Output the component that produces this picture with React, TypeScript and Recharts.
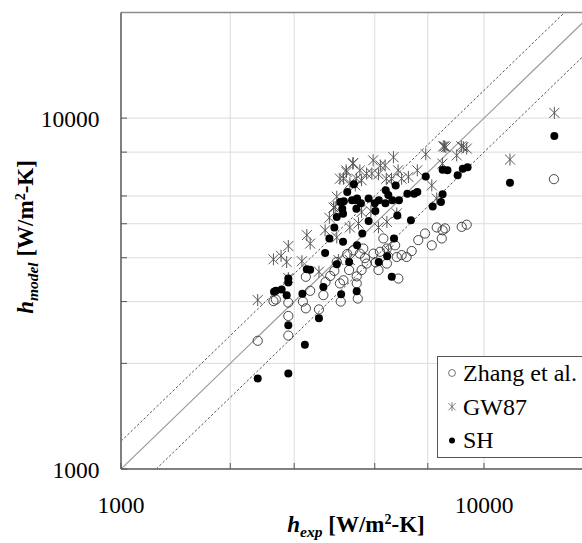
import { ScatterChart, Scatter, XAxis, YAxis, CartesianGrid, ReferenceLine, Legend } from 'recharts';

const SERIF = '"Liberation Serif", "Times New Roman", serif';

// axis setup (log-log, both axes 1000 .. 20000)
const axisDomain = [1000, 20000];
const gridTicks = [1000, 2000, 3000, 4000, 5000, 6000, 7000, 8000, 9000, 10000];
const labelledTicks = [1000, 10000];

// parity line and +/-20 % band
const parityRatios = [1, 1.2, 0.8];

// [h_exp, h_model] pairs
const zhangPoints = [
  [2380, 2320], [2890, 2400], [2890, 2730], [2890, 2980], [2630, 3010], [2670, 3040],
  [3170, 3000], [3230, 2870], [3320, 3220], [3230, 3530], [3510, 2850], [3610, 3130],
  [3660, 3410], [3770, 3550], [3870, 3670], [4010, 3380], [4100, 3450], [4030, 3000],
  [4250, 3690], [4200, 4100], [4460, 3540], [4460, 3380], [4490, 3060], [3930, 3890],
  [4360, 4200], [4550, 4110], [4650, 4250], [4960, 4110], [5170, 4160], [5400, 4250],
  [5690, 4340], [5930, 4070], [6120, 4020], [6320, 4180], [6590, 4490], [7180, 4340],
  [7650, 4540], [7410, 4880], [7810, 4850], [7690, 4790], [8680, 4900], [8960, 4970],
  [6880, 4690], [5280, 4540], [4750, 3850], [5120, 3690], [5400, 3850], [5750, 4020],
  [5810, 3490], [4600, 3690], [4700, 3990], [5030, 3880], [15580, 6700],
];

const gw87Points = [
  [2380, 3030], [2630, 3960], [2760, 4050], [2860, 3890], [2890, 4320], [2890, 3500],
  [3150, 3910], [3510, 3650], [3250, 4640], [3320, 4390], [3650, 4790], [3750, 5200],
  [3850, 5560], [3930, 5970], [4010, 6720], [4100, 6720], [4170, 7100], [4360, 7450],
  [3930, 4570], [4270, 4880], [4510, 5010], [3890, 5580], [4180, 7020], [4350, 7420],
  [4750, 6950], [4910, 6950], [5120, 6920], [5630, 7740], [5340, 7330], [5930, 6720],
  [6190, 6800], [6550, 7100], [6910, 7890], [7180, 6430], [7410, 5900], [7680, 7420],
  [7720, 8310], [7780, 8310], [7850, 8260], [8770, 8270], [8960, 8190], [8660, 8310],
  [5750, 5350], [5400, 5060], [5120, 4880], [4600, 5400], [3970, 3940], [4270, 3940],
  [5450, 4200], [4550, 7100], [4450, 6720], [5180, 7330], [4950, 7580], [5560, 6720],
  [4420, 6430], [5800, 7100], [4600, 6650], [4270, 6520], [5380, 6720], [4040, 5560],
  [4880, 5430], [8410, 7830], [11790, 7620], [15620, 10350],
];

const shPoints = [
  [2380, 1810], [2890, 1870], [3210, 2260], [2890, 2570], [3510, 2690], [2640, 3200],
  [2670, 3220], [2770, 3250], [2860, 3130], [2890, 3490], [2890, 3400], [3160, 3160],
  [3250, 3710], [3320, 3700], [3650, 4130], [3610, 3300], [3930, 3830], [4250, 3890],
  [4040, 3150], [4460, 3210], [4090, 4440], [5130, 3890], [5410, 4040], [5650, 4540],
  [5570, 3530], [4620, 4690], [4470, 4340], [3750, 4540], [3870, 4880], [3930, 5230],
  [4070, 5520], [4450, 5520], [4020, 5770], [4110, 5800], [4200, 6160], [4330, 5830],
  [4420, 5830], [4470, 5900], [4380, 6480], [4810, 5900], [4810, 5090], [5020, 5440],
  [5130, 5830], [5360, 6230], [5590, 5830], [5710, 6430], [5770, 5280], [5830, 5830],
  [6150, 6090], [6290, 5120], [6420, 6090], [6550, 6160], [6910, 6820], [7220, 5600],
  [7610, 5770], [7690, 6070], [7690, 7130], [7930, 7100], [8460, 6870], [8740, 7170],
  [9010, 7250], [4580, 5720], [5000, 5720], [5350, 5720], [5450, 6040], [4090, 5340],
  [11790, 6540], [15620, 8890],
];

const toXY = (pts: number[][]) => pts.map(([x, y]) => ({ x, y }));

const OpenCircle = (p: any) => (
  <circle cx={p.cx} cy={p.cy} r={4.6} fill="none" stroke="#333" strokeWidth={0.9} />
);
const Dot = (p: any) => <circle cx={p.cx} cy={p.cy} r={4} fill="#000" />;
const Star = (p: any) => {
  const { cx, cy } = p;
  return (
    <g stroke="#555" strokeWidth={1}>
      <line x1={cx} y1={cy - 6} x2={cx} y2={cy + 6} />
      <line x1={cx - 5} y1={cy - 5} x2={cx + 5} y2={cy + 5} />
      <line x1={cx - 5} y1={cy + 5} x2={cx + 5} y2={cy - 5} />
    </g>
  );
};

const XTick = (props: any) => {
  const { x, y, payload } = props;
  return (
    <g>
      <line x1={x} x2={x} y1={y} y2={y - 6} stroke="#555" />
      {labelledTicks.includes(payload.value) && (
        <text x={x} y={y + 44} textAnchor="middle" fontFamily={SERIF} fontSize={23.5} fill="#000">
          {payload.value}
        </text>
      )}
    </g>
  );
};

const YTick = (props: any) => {
  const { x, y, payload } = props;
  return (
    <g>
      <line x1={x} x2={x + 6} y1={y} y2={y} stroke="#555" />
      {labelledTicks.includes(payload.value) && (
        <text x={x - 21.5} y={y + 9} textAnchor="end" fontFamily={SERIF} fontSize={23.5} fill="#000">
          {payload.value}
        </text>
      )}
    </g>
  );
};

const XTitle = () => (
  <text x={356} y={532} textAnchor="middle" fontFamily={SERIF} fontWeight="bold" fontSize={23} fill="#000">
    <tspan fontStyle="italic">h</tspan>
    <tspan fontStyle="italic" fontSize={15.5} dy={5}>exp</tspan>
    <tspan dy={-5}> [W/m</tspan>
    <tspan fontSize={14} dy={-8}>2</tspan>
    <tspan dy={8}>-K]</tspan>
  </text>
);

const YTitle = () => (
  <text
    x={33}
    y={237}
    transform="rotate(-90 33 237)"
    textAnchor="middle"
    fontFamily={SERIF}
    fontWeight="bold"
    fontSize={23}
    fill="#000"
  >
    <tspan fontStyle="italic">h</tspan>
    <tspan fontStyle="italic" fontSize={15.5} dy={5}>model</tspan>
    <tspan dy={-5}> [W/m</tspan>
    <tspan fontSize={14} dy={-8}>2</tspan>
    <tspan dy={8}>-K]</tspan>
  </text>
);

const legendItems = [
  { name: 'Zhang et al.', Icon: OpenCircle },
  { name: 'GW87', Icon: Star },
  { name: 'SH', Icon: Dot },
];

const renderLegend = () => (
  <svg width={170} height={103} style={{ display: 'block' }}>
    <rect x={0.5} y={0.5} width={200} height={101} fill="#fff" stroke="#555" />
    {legendItems.map((item, i) => {
      const base = 25 + i * 33.7;
      const Icon = item.Icon;
      return (
        <g key={item.name}>
          <g transform={`translate(15 ${base - 8}) scale(0.75) translate(-15 ${-(base - 8)})`}>
            <Icon cx={15} cy={base - 8} />
          </g>
          <text x={26} y={base} fontFamily={SERIF} fontSize={24} fill="#000">
            {item.name}
          </text>
        </g>
      );
    })}
  </svg>
);

const segmentFor = (r: number) => {
  const [lo, hi] = axisDomain;
  const x0 = Math.max(lo, lo / r);
  const x1 = Math.min(hi, hi / r);
  return [
    { x: x0, y: x0 * r },
    { x: x1, y: x1 * r },
  ];
};

export default function App() {
  return (
    <div style={{ position: 'absolute', left: 0, top: 0, width: 582, height: 543, overflow: 'hidden', background: '#fff' }}>
      <ScatterChart width={600} height={543} margin={{ top: 12.5, right: 6.7, bottom: 0, left: 0 }}>
        <CartesianGrid stroke="#dcdcdc" strokeWidth={1} />
        <XAxis
          dataKey="x"
          type="number"
          scale="log"
          domain={axisDomain}
          ticks={gridTicks}
          allowDataOverflow
          height={74}
          tickSize={0}
          tickMargin={0}
          tickLine={false}
          tick={<XTick />}
          axisLine={{ stroke: '#808080', strokeWidth: 2 }}
          label={() => <XTitle />}
        />
        <YAxis
          dataKey="y"
          type="number"
          scale="log"
          domain={axisDomain}
          ticks={gridTicks}
          allowDataOverflow
          width={121}
          tickSize={0}
          tickMargin={0}
          tickLine={false}
          tick={<YTick />}
          axisLine={{ stroke: '#808080', strokeWidth: 2 }}
          label={() => <YTitle />}
        />
        <ReferenceLine y={20000} stroke="#8c8c8c" strokeWidth={1.5} ifOverflow="visible" />
        {parityRatios.map((r) => (
          <ReferenceLine
            key={r}
            segment={segmentFor(r)}
            stroke={r === 1 ? '#9a9a9a' : '#555'}
            strokeWidth={r === 1 ? 1.2 : 1}
            strokeDasharray={r === 1 ? undefined : '2.5 2'}
            ifOverflow="hidden"
          />
        ))}
        <Scatter name="Zhang et al." data={toXY(zhangPoints)} shape={OpenCircle} isAnimationActive={false} />
        <Scatter name="GW87" data={toXY(gw87Points)} shape={Star} isAnimationActive={false} />
        <Scatter name="SH" data={toXY(shPoints)} shape={Dot} isAnimationActive={false} />
        <Legend
          content={renderLegend}
          layout="vertical"
          verticalAlign="middle"
          align="center"
          wrapperStyle={{ left: 437, top: 356, width: 170, height: 103 }}
        />
      </ScatterChart>
    </div>
  );
}
